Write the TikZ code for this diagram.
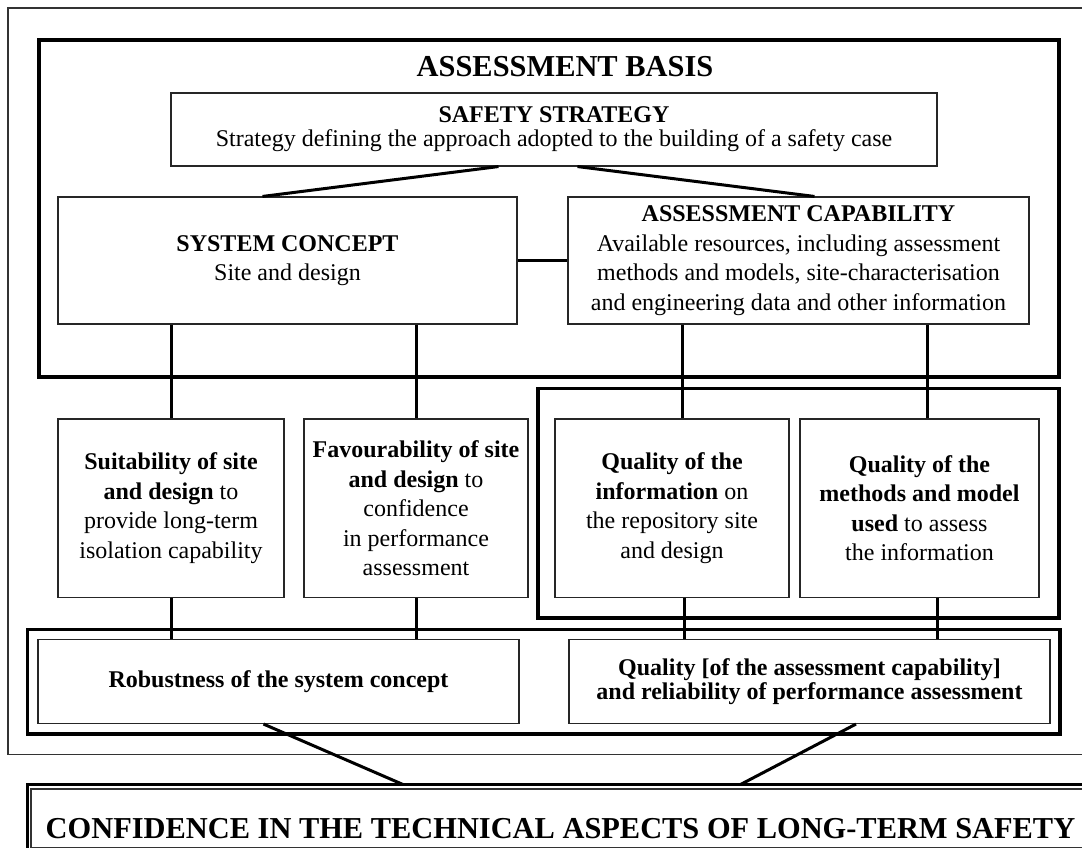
\documentclass[tikz,border=0pt]{standalone}
\usepackage{fontspec}
\setmainfont{Liberation Serif}
\newcommand\diagbody{\fontsize{24}{29.5}\selectfont}
\newcommand\diagtight{\fontsize{24}{24}\selectfont}
\newcommand\diagbig{\fontsize{30.4}{36}\selectfont}
\begin{document}
\begin{tikzpicture}[x=1pt,y=-1pt,
  box/.style={draw=black!85, line width=1.1pt, inner sep=0pt, align=center, font=\diagbody},
  frame/.style={draw=black, line width=3.4pt},
  thinframe/.style={draw=black!80, line width=1.1pt},
  link/.style={draw=black, line width=3pt},
]
\useasboundingbox (0,0) rectangle (1082,848);
\clip (0,0) rectangle (1082,848);
\fill[white] (0,0) rectangle (1082,848);

% outer thin frame (runs off the right edge)
\draw[thinframe] (8,8) rectangle (1120,754.5);

% assessment basis
\draw[frame] (39,40) rectangle (1059,377);
\node[font=\diagbig\bfseries, inner sep=0pt] (abtitle) at (565,67) {ASSESSMENT BASIS};

\node[box, font=\diagtight, minimum width=766pt, minimum height=73pt] (safety) at (554,129.5)
  {\textbf{SAFETY STRATEGY}\\Strategy defining the approach adopted to the building of a safety case};

\node[box, minimum width=459pt, minimum height=127pt] (sc) at (287.5,260.5)
  {\textbf{SYSTEM CONCEPT}\\Site and design};

\node[box, minimum width=461pt, minimum height=127pt] (ac) at (798.5,260.5)
  {\textbf{ASSESSMENT CAPABILITY}\\Available resources, including assessment\\methods and models, site-characterisation\\and engineering data and other information};

% frame round the two quality boxes
\draw[frame] (538,388.5) rectangle (1059,618);

\node[box, minimum width=226pt, minimum height=178.5pt] (suit) at (171,508.25)
  {\textbf{Suitability of site}\\\textbf{and design} to\\provide long-term\\isolation capability};
\node[box, minimum width=224pt, minimum height=178.5pt] (fav) at (416,508.25)
  {\textbf{Favourability of site}\\\textbf{and design} to\\confidence\\in performance\\assessment};
\node[box, minimum width=234pt, minimum height=178.5pt] (qi) at (672,508.25)
  {\textbf{Quality of the}\\\textbf{information} on\\the repository site\\and design};
\node[box, minimum width=239pt, minimum height=178.5pt] (qm) at (919.5,508.25)
  {\textbf{Quality of the}\\\textbf{methods and model}\\\textbf{used} to assess\\the information};

% frame round the lower pair
\draw[frame] (27.5,629.5) rectangle (1060,734);

\node[box, minimum width=481pt, minimum height=84pt] (rob) at (278.5,681.5)
  {\textbf{Robustness of the system concept}};
\node[box, font=\diagtight, minimum width=481pt, minimum height=84pt] (qual) at (809.5,681.5)
  {\textbf{Quality [of the assessment capability]}\\\textbf{and reliability of performance assessment}};

% confidence box with double border (runs off the right and bottom edges)
\draw[frame] (27.5,784.5) rectangle (1120,870);
\draw[thinframe] (31,789) rectangle (1120,847.5);
\node[font=\diagbig\bfseries, inner sep=0pt] (conf) at (560.5,828.5)
  {CONFIDENCE IN THE TECHNICAL ASPECTS OF LONG-TERM SAFETY};
\coordinate (confL) at (403,784.5);
\coordinate (confR) at (740.5,784.5);

% connectors
\draw[link] ([xshift=328pt]safety.south west) -- ([xshift=205pt]sc.north west);
\draw[link] ([xshift=407pt]safety.south west) -- ([xshift=247pt]ac.north west);
\draw[link] (sc.east) -- (ac.west);

\draw[link] (sc.south -| suit.north) -- (suit.north);
\draw[link] (sc.south -| fav.north) -- (fav.north);
\coordinate (qiT) at ([xshift=10pt]qi.north);
\coordinate (qmT) at ([xshift=7.5pt]qm.north);
\draw[link] (qiT |- ac.south) -- (qiT);
\draw[link] (qmT |- ac.south) -- (qmT);

\draw[link] (suit.south) -- (suit.south |- rob.north);
\draw[link] (fav.south) -- (fav.south |- rob.north);
\coordinate (qiB) at ([xshift=12pt]qi.south);
\coordinate (qmB) at ([xshift=17.5pt]qm.south);
\draw[link] (qiB) -- (qiB |- qual.north);
\draw[link] (qmB) -- (qmB |- qual.north);

\draw[link] ([xshift=-15pt]rob.south) -- (confL);
\draw[link] ([xshift=46.5pt]qual.south) -- (confR);
\end{tikzpicture}
\end{document}
